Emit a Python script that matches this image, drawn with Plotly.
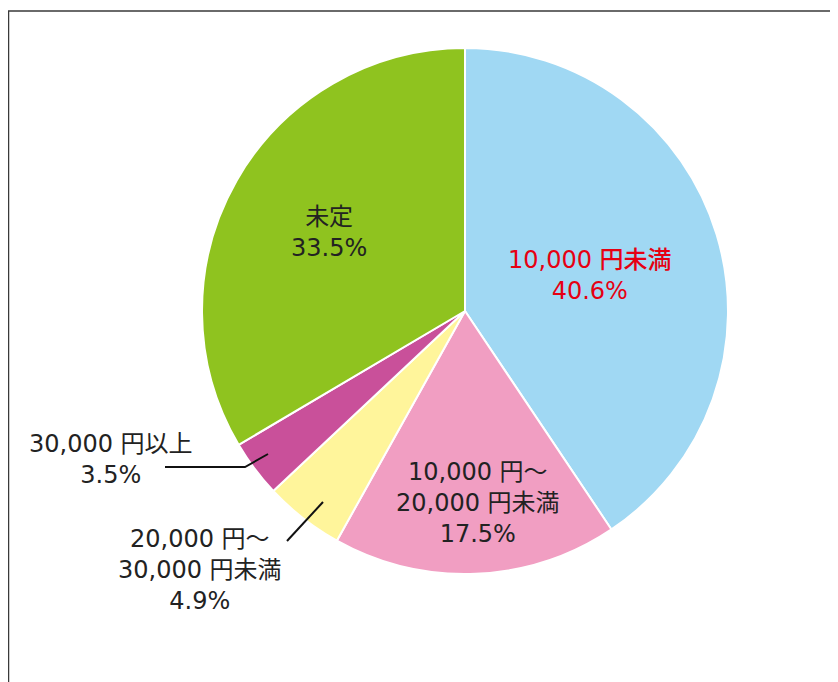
import plotly.graph_objects as go

labels = ["10,000 円未満", "10,000 円〜20,000 円未満", "20,000 円〜30,000 円未満", "30,000 円以上", "未定"]
values = [40.6, 17.5, 4.9, 3.5, 33.5]
colors = ["#A0D8F3", "#F19EC2", "#FFF59B", "#C9509A", "#8FC31F"]
label_lines = [["10,000 円未満"], ["10,000 円〜", "20,000 円未満"], ["20,000 円〜", "30,000 円未満"], ["30,000 円以上"], ["未定"]]

W, H = 838, 682
OFF = 8  # page body margin offset
FONT = "DejaVu Sans, Noto Sans CJK JP, sans-serif"

def px(x):
    return (x - OFF) / W

def py(y):
    return 1 - (y - OFF) / H

fig = go.Figure(go.Pie(
    labels=labels, values=values, sort=False, direction="clockwise", rotation=0,
    marker=dict(colors=colors, line=dict(color="white", width=2)),
    textinfo="none", hoverinfo="label+percent", showlegend=False,
    domain=dict(x=[px(202), px(728)], y=[py(574), py(48)]),
))

# label anchor positions (pixels) for each slice
label_pos = [(590, 275), (478, 503), (200, 570), (111, 459), (329, 233)]
label_colors = ["#E60012", "#222222", "#222222", "#222222", "#222222"]

annotations = []
for i, (lines, v, (x, y), c) in enumerate(zip(label_lines, values, label_pos, label_colors)):
    text = "<br>".join(lines + [f"{v:.1f}%"])
    annotations.append(dict(
        x=px(x), y=py(y), xref="paper", yref="paper", text=text, showarrow=False,
        font=dict(family=FONT, size=24, color=c, weight=500 if i == 0 else 400), align="center",
        xanchor="center", yanchor="middle",
    ))

shapes = [
    dict(type="rect", xref="paper", yref="paper", x0=px(8.5), x1=1.05, y0=-0.05, y1=py(11),
         line=dict(color="#3a3a3a", width=1.5), fillcolor="rgba(0,0,0,0)", layer="below"),
    dict(type="path", xref="paper", yref="paper",
         path=f"M {px(268)},{py(454)} L {px(245)},{py(467)} L {px(165)},{py(467)}",
         line=dict(color="#111111", width=2)),
    dict(type="line", xref="paper", yref="paper", x0=px(323), y0=py(502), x1=px(287), y1=py(541),
         line=dict(color="#111111", width=2)),
]

fig.update_layout(
    width=W, height=H, margin=dict(l=0, r=0, t=0, b=0),
    paper_bgcolor="white", plot_bgcolor="white",
    annotations=annotations, shapes=shapes,
)

fig.write_html("out.html")
